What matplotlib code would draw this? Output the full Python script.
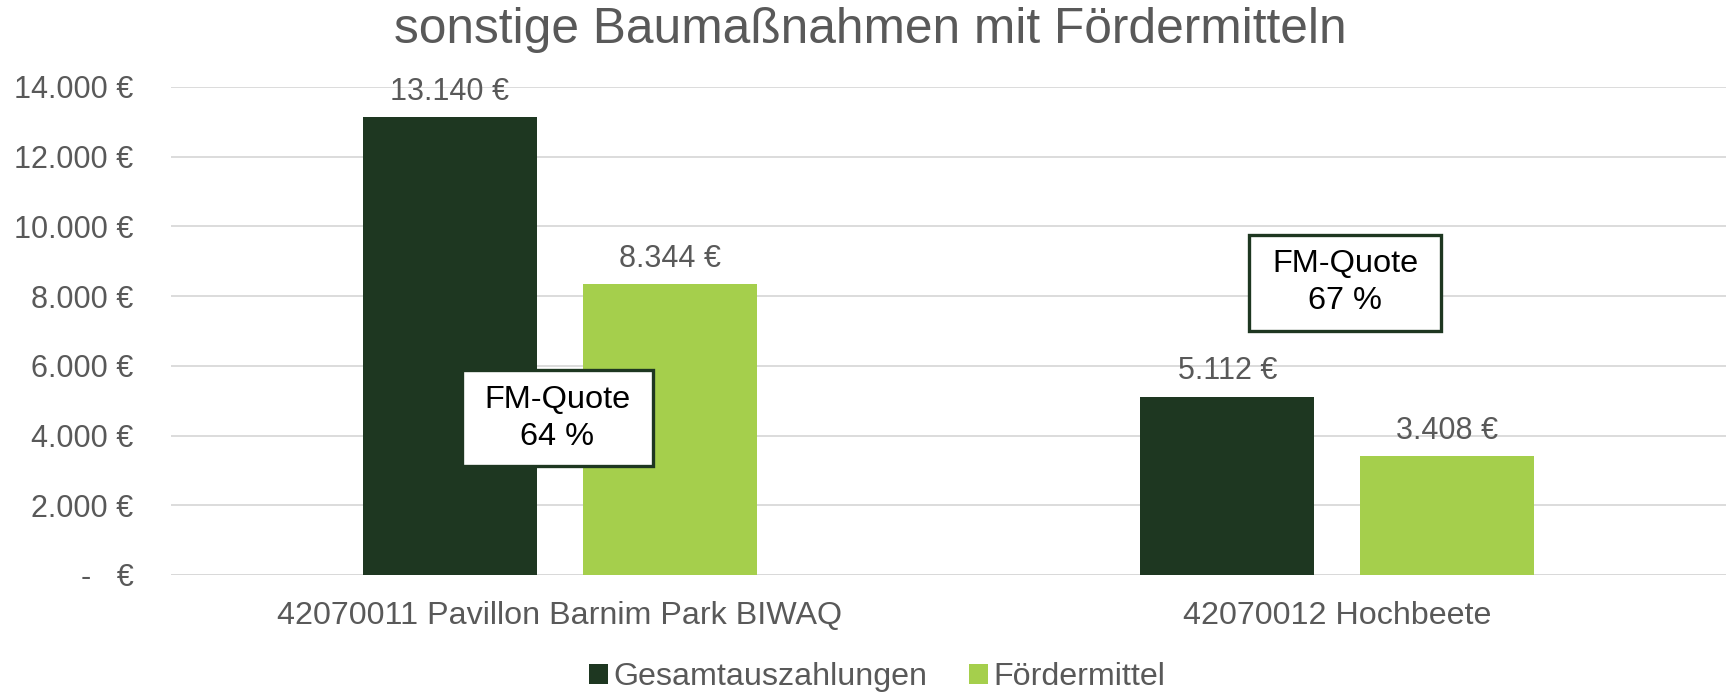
import matplotlib
matplotlib.use("Agg")
import matplotlib.pyplot as plt
from matplotlib.patches import Rectangle
import numpy as np

categories = ["42070011 Pavillon Barnim Park BIWAQ", "42070012 Hochbeete"]
series_names = ["Gesamtauszahlungen", "Fördermittel"]
gesamt = [13140, 5112]
foerder = [8344, 3408]
quote_labels = ["FM-Quote\n64 %", "FM-Quote\n67 %"]
quote_x = [-0.003, 1.01]
quote_y = [4500, 8380]
yticks = [0, 2000, 4000, 6000, 8000, 10000, 12000, 14000]

plt.rcParams['font.family'] = ['Liberation Sans', 'DejaVu Sans']
GRAY = "#595959"
DARK = "#1E3721"
LIGHT = "#A5CF4C"

fig = plt.figure(figsize=(17.26, 6.92), dpi=100)
ax = fig.add_axes([0.0991, 0.1691, 0.9009, 0.7052])

x = np.arange(len(categories))
w = 0.224
off = 0.1415
b1 = ax.bar(x - off, gesamt, w, color=DARK, label=series_names[0], zorder=3)
b2 = ax.bar(x + off, foerder, w, color=LIGHT, label=series_names[1], zorder=3)

def fmt(v):
    return f"{v:,.0f}".replace(",", ".") + " €"

for bars, vals in ((b1, gesamt), (b2, foerder)):
    for r, v in zip(bars, vals):
        ax.annotate(fmt(v), (r.get_x() + r.get_width() / 2, v), xytext=(0, 7.5),
                    textcoords="offset points", ha="center", va="bottom",
                    fontsize=22, color=GRAY, zorder=5)

box_w = 0.2463
box_h = 2748
for xi, lab, yv in zip(quote_x, quote_labels, quote_y):
    ax.add_patch(Rectangle((xi - box_w / 2, yv - box_h / 2), box_w, box_h,
                           facecolor="white", edgecolor=DARK, linewidth=2.4,
                           zorder=6))
    ax.text(xi, yv, lab, ha="center", va="center", fontsize=23.4, color="black",
            linespacing=1.3, zorder=7)

ax.set_xlim(-0.5, 1.5)
ax.set_ylim(0, 14000)
ax.set_yticks(yticks)
ax.set_yticklabels(["-   €" if v == 0 else fmt(v) for v in yticks])
ax.set_xticks(x)
ax.set_xticklabels(categories)
ax.tick_params(axis="y", length=0, pad=27, labelsize=22, labelcolor=GRAY)
ax.tick_params(axis="x", length=0, pad=19, labelsize=23.2, labelcolor=GRAY)
ax.grid(axis="y", color="#D9D9D9", linewidth=1.3, zorder=0)
for s in ax.spines.values():
    s.set_visible(False)
ax.axhline(0, color="#D9D9D9", linewidth=1.3, zorder=1)

fig.suptitle("sonstige Baumaßnahmen mit Fördermitteln", x=0.504, y=0.99,
             va="top", fontsize=35.7, color=GRAY)

fig.legend(handles=[b1, b2], labels=series_names, loc="center",
           bbox_to_anchor=(0.508, 0.021), ncol=2, frameon=False, fontsize=23.2,
           labelcolor=GRAY, handlelength=0.6, handleheight=0.6,
           handletextpad=0.15, columnspacing=1.3)

fig.savefig("out.png", dpi=100)
